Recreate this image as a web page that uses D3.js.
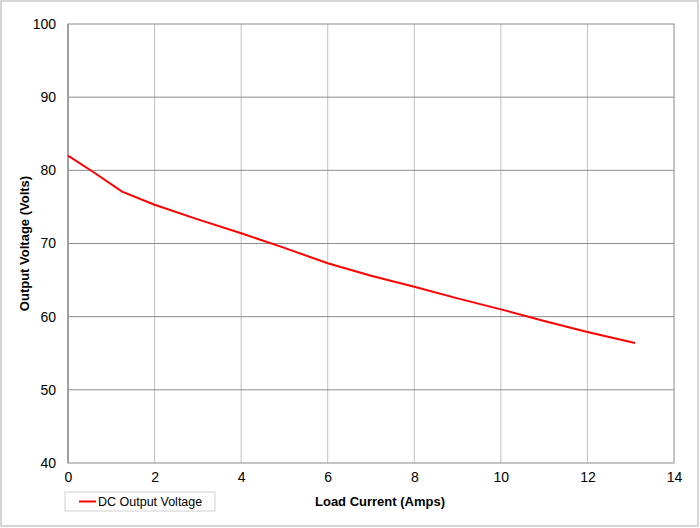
<!DOCTYPE html>
<html>
<head>
<meta charset="utf-8">
<script src="https://cdn.jsdelivr.net/npm/d3@7"></script>
<style>
  body { margin: 0; background: #fff; }
  svg text { font-family: "Liberation Sans", Arial, sans-serif; }
</style>
</head>
<body>
<div id="chart"></div>
<script>
"use strict"

// data
var current = [0, 0.6, 1.25, 2, 3, 4, 5, 6, 7, 8, 9, 10, 11, 12, 13.1]
var voltage = [82, 79.7, 77.1, 75.3, 73.3, 71.4, 69.4, 67.3, 65.6, 64.1, 62.5, 61, 59.4, 57.9, 56.4]
var xTicks = [0, 2, 4, 6, 8, 10, 12, 14]
var yTicks = [40, 50, 60, 70, 80, 90, 100]
var seriesName = "DC Output Voltage"

var W = 700, H = 528
var m = { left: 68, top: 24, right: 674, bottom: 463 }

var svg = d3.select("#chart").append("svg")
    .attr("width", W)
    .attr("height", H)

// outer frame
svg.append("rect")
    .attr("x", 1).attr("y", 1)
    .attr("width", W - 3).attr("height", H - 3)
    .attr("fill", "#fff")
    .attr("stroke", "#c8c8c8")
    .attr("stroke-width", 1.5)

var x = d3.scaleLinear().domain([0, 14]).range([m.left, m.right])
var y = d3.scaleLinear().domain([40, 100]).range([m.bottom, m.top])

// grid lines
svg.append("g").selectAll("line")
    .data(xTicks.slice(1, -1))
    .enter().append("line")
    .attr("x1", function(d) { return x(d) }).attr("x2", function(d) { return x(d) })
    .attr("y1", m.top).attr("y2", m.bottom)
    .attr("stroke", "#c0c0c0").attr("stroke-width", 1)

svg.append("g").selectAll("line")
    .data(yTicks.slice(1, -1))
    .enter().append("line")
    .attr("x1", m.left).attr("x2", m.right)
    .attr("y1", function(d) { return y(d) }).attr("y2", function(d) { return y(d) })
    .attr("stroke", "#8c8c8c").attr("stroke-width", 1)

// plot border
svg.append("rect")
    .attr("x", m.left).attr("y", m.top)
    .attr("width", m.right - m.left).attr("height", m.bottom - m.top)
    .attr("fill", "none")
    .attr("stroke", "#8c8c8c").attr("stroke-width", 1)

svg.append("line")
    .attr("x1", m.left).attr("x2", m.left)
    .attr("y1", m.top).attr("y2", m.bottom)
    .attr("stroke", "#a0a0a0").attr("stroke-width", 2)

// axes (labels only)
var xaxis = d3.axisBottom(x).tickValues(xTicks).tickSize(0).tickPadding(9)
var gx = svg.append("g")
    .attr("transform", "translate(0," + m.bottom + ")")
    .call(xaxis)
gx.select(".domain").remove()
gx.selectAll("text").attr("font-size", 14).attr("fill", "#000")
    .style("font-family", "'Liberation Sans', Arial, sans-serif")

var yaxis = d3.axisLeft(y).tickValues(yTicks).tickSize(0).tickPadding(12)
var gy = svg.append("g")
    .attr("transform", "translate(" + m.left + ",0)")
    .call(yaxis)
gy.select(".domain").remove()
gy.selectAll("text").attr("font-size", 14).attr("fill", "#000")
    .style("font-family", "'Liberation Sans', Arial, sans-serif")

// axis titles
svg.append("text")
    .attr("x", 380).attr("y", 506)
    .attr("text-anchor", "middle")
    .attr("font-size", 13).attr("font-weight", "bold")
    .text("Load Current (Amps)")

svg.append("text")
    .attr("transform", "translate(29," + ((m.top + m.bottom) / 2) + ") rotate(-90)")
    .attr("text-anchor", "middle")
    .attr("font-size", 13).attr("font-weight", "bold")
    .text("Output Voltage (Volts)")

// series line
var linefunc = d3.line()
    .x(function(d) { return x(d[0]) })
    .y(function(d) { return y(d[1]) })

svg.append("path")
    .attr("d", linefunc(d3.zip(current, voltage)))
    .attr("fill", "none")
    .attr("stroke", "#ff0000")
    .attr("stroke-width", 2)

// legend
var lg = svg.append("g").attr("transform", "translate(65,492)")
lg.append("rect")
    .attr("width", 150).attr("height", 19)
    .attr("fill", "#fff").attr("stroke", "#d0d0d0")
lg.append("line")
    .attr("x1", 14).attr("x2", 31).attr("y1", 9.5).attr("y2", 9.5)
    .attr("stroke", "#ff0000").attr("stroke-width", 2)
lg.append("text")
    .attr("x", 33).attr("y", 14)
    .attr("font-size", 12.5)
    .text(seriesName)
</script>
</body>
</html>
